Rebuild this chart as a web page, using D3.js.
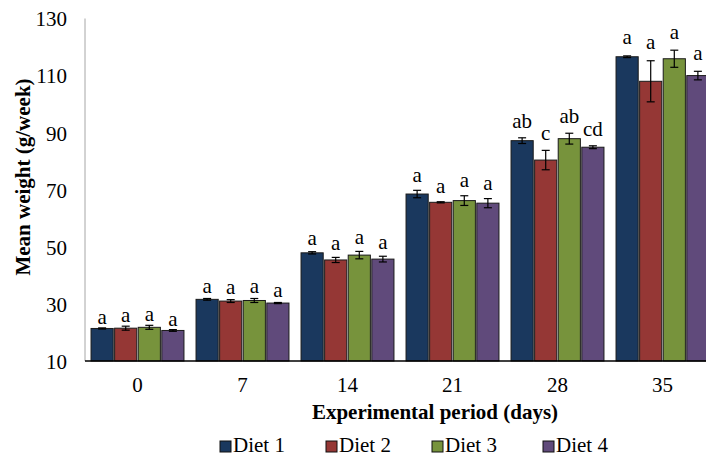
<!DOCTYPE html>
<html><head><meta charset="utf-8">
<script src="https://cdn.jsdelivr.net/npm/d3@7/dist/d3.min.js"></script>
<style>body{margin:0;background:#fff;}svg{display:block;}</style>
</head><body>
<script>
const days = ["0","7","14","21","28","35"];
const series = ["Diet 1","Diet 2","Diet 3","Diet 4"];
const colors = ["#1A385E","#953735","#77933C","#604A7B"];
const means = [
  [21.4, 31.6, 47.9, 68.5, 87.2, 116.6],
  [21.5, 31.0, 45.4, 65.6, 80.4, 108.0],
  [21.8, 31.2, 47.1, 66.2, 87.9, 115.9],
  [20.7, 30.3, 45.7, 65.3, 84.9, 110.0]
];
const errs = [
  [0.2, 0.3, 0.4, 1.3, 1.0, 0.3],
  [0.7, 0.5, 0.9, 0.2, 3.4, 7.2],
  [0.7, 0.7, 1.3, 1.7, 1.9, 3.0],
  [0.3, 0.2, 1.0, 1.6, 0.5, 1.5]
];
const letters = [
  ["a","a","a","a","ab","a"],
  ["a","a","a","a","c","a"],
  ["a","a","a","a","ab","a"],
  ["a","a","a","a","cd","a"]
];
const yTicks = [10,30,50,70,90,110,130];

const W = 706, H = 457;
const svg = d3.select("body").append("svg").attr("width",W).attr("height",H);
const font = "'Liberation Serif','Times New Roman',serif";

const x0 = d3.scaleBand().domain(days).range([85,715]).paddingInner(0.115).paddingOuter(0.0575);
const x1 = d3.scaleBand().domain(series).range([0,x0.bandwidth()]).paddingInner(0.06);
const y = d3.scaleLinear().domain([10,130]).range([361,18.5]);

// y axis
const yAxis = svg.append("g").attr("transform","translate(85,0)")
  .call(d3.axisLeft(y).tickValues(yTicks).tickSize(0).tickPadding(18));
yAxis.select(".domain").attr("stroke","#a6a6a6").attr("d","M0,"+y(130)+"V"+y(10));
yAxis.selectAll("text").attr("font-family",font).attr("font-size",21).attr("fill","#000").attr("dy","0.35em");

// bars
const data = [];
series.forEach((s,i)=>days.forEach((d,j)=>data.push({s,i,j,d,v:means[i][j],e:errs[i][j],l:letters[i][j]})));
const g = svg.append("g");
g.selectAll("rect").data(data).join("rect")
  .attr("x",d=>x0(d.d)+x1(d.s)).attr("width",x1.bandwidth())
  .attr("y",d=>y(d.v)).attr("height",d=>y(10)-y(d.v))
  .attr("fill",d=>colors[d.i]).attr("stroke","#1a1a1a").attr("stroke-width",1);

// error bars
const eb = g.selectAll("g.eb").data(data).join("g").attr("class","eb")
  .attr("stroke","#000").attr("stroke-width",1.2);
const cx = d=>x0(d.d)+x1(d.s)+x1.bandwidth()/2;
eb.append("line").attr("x1",cx).attr("x2",cx).attr("y1",d=>y(d.v+d.e)).attr("y2",d=>y(d.v-d.e));
eb.append("line").attr("x1",d=>cx(d)-4).attr("x2",d=>cx(d)+4).attr("y1",d=>y(d.v+d.e)).attr("y2",d=>y(d.v+d.e));
eb.append("line").attr("x1",d=>cx(d)-4).attr("x2",d=>cx(d)+4).attr("y1",d=>y(d.v-d.e)).attr("y2",d=>y(d.v-d.e));

// letters
g.selectAll("text.lt").data(data).join("text").attr("class","lt")
  .attr("x",cx).attr("y",d=>y(d.v+d.e)-4-d.j*1.5)
  .attr("text-anchor","middle").attr("font-family",font).attr("font-size",21).text(d=>d.l);

// x axis
const xAxis = svg.append("g").attr("transform","translate(0,361)")
  .call(d3.axisBottom(x0).tickSize(0).tickPadding(16));
xAxis.select(".domain").attr("stroke","#000").attr("stroke-width",1.5).attr("d","M85,0H715");
xAxis.selectAll("text").attr("font-family",font).attr("font-size",21).attr("fill","#000");

// titles
svg.append("text").attr("x",435).attr("y",419).attr("text-anchor","middle")
  .attr("font-family",font).attr("font-size",21).attr("font-weight","bold").text("Experimental period (days)");
svg.append("text").attr("transform","translate(30,177) rotate(-90)").attr("text-anchor","middle")
  .attr("font-family",font).attr("font-size",21).attr("font-weight","bold").text("Mean weight (g/week)");

// legend
const legX = [220,326,432,543];
const leg = svg.append("g").selectAll("g").data(series).join("g")
  .attr("transform",(d,i)=>`translate(${legX[i]},0)`);
leg.append("rect").attr("x",0).attr("y",441).attr("width",11).attr("height",11)
  .attr("fill",(d,i)=>colors[i]).attr("stroke","#111").attr("stroke-width",1);
leg.append("text").attr("x",13).attr("y",452).attr("font-family",font).attr("font-size",21).text(d=>d);
</script>
</body></html>
